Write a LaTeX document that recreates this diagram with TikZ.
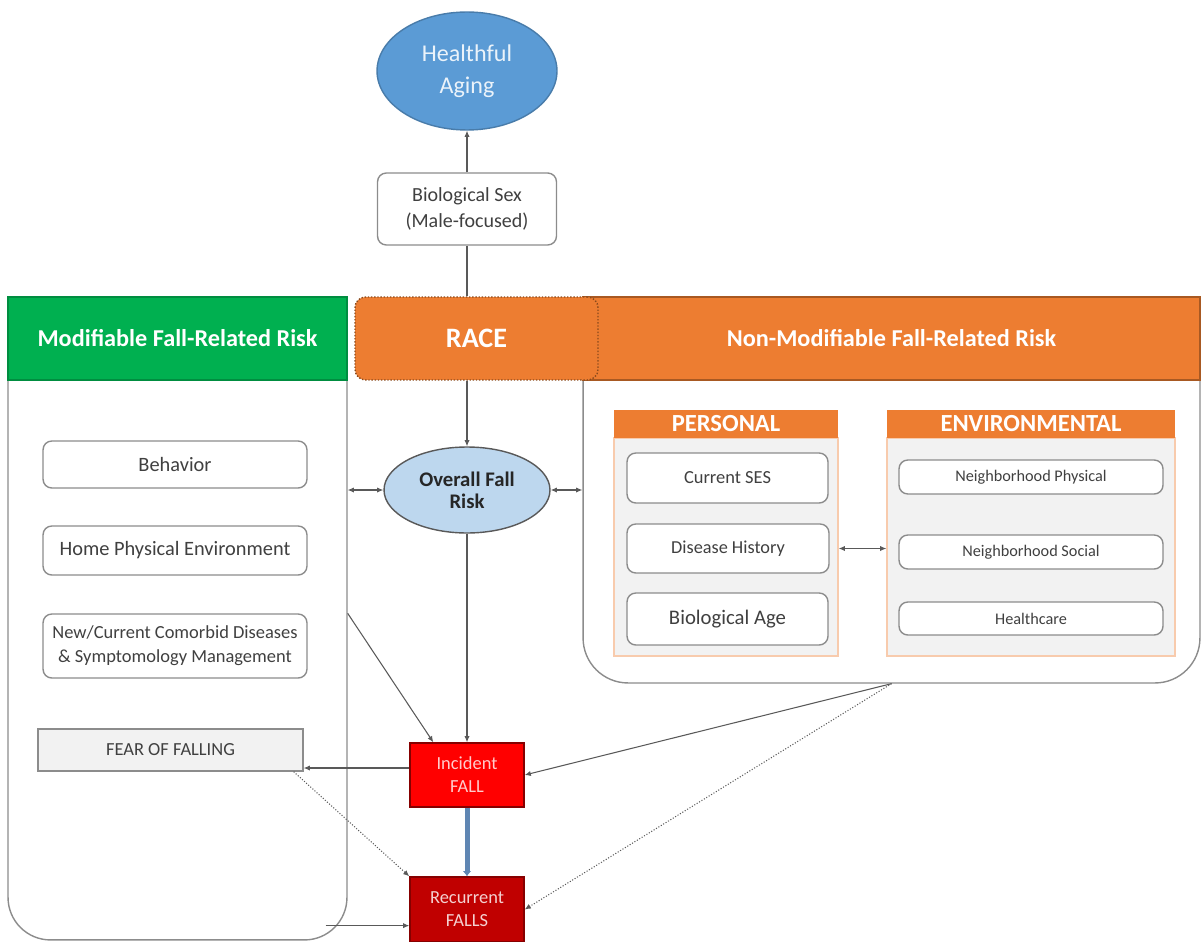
\documentclass[tikz,border=0pt]{standalone}
\usepackage{fontspec}
\setmainfont{Carlito}
\usepackage{xcolor}
\usepackage{tikz}
\usetikzlibrary{shapes}
\usetikzlibrary{shapes.geometric}
\usetikzlibrary{arrows.meta}
\usetikzlibrary{positioning}
\definecolor{modgreen}{HTML}{00B050}
\definecolor{nonorange}{HTML}{ED7D31}
\definecolor{raceline}{HTML}{8A4A1C}
\definecolor{agingblue}{HTML}{5B9BD5}
\definecolor{riskblue}{HTML}{BDD7EE}
\definecolor{fallred}{HTML}{FF0000}
\definecolor{fallsred}{HTML}{C00000}
\definecolor{boxline}{HTML}{8C8C8C}
\definecolor{connline}{HTML}{595959}
\definecolor{softfill}{HTML}{F2F2F2}
\definecolor{softorange}{HTML}{F8CBAD}
\definecolor{textgray}{HTML}{404040}
\definecolor{barblue}{HTML}{5F86B3}
\tikzset{
    panel/.style = {rectangle, draw=boxline, fill=white, rounded corners=0.85cm, thick},
    header/.style = {rectangle, text=white, align=center, font=\bfseries\fontsize{13.8}{16}\selectfont, minimum height=1.66cm},
    factor/.style = {rectangle, draw=boxline, fill=white, rounded corners=5pt, align=center, text=textgray, font=\fontsize{11.6}{14}\selectfont, thick},
    subhead/.style = {rectangle, fill=nonorange, text=white, font=\bfseries\fontsize{14}{15}\selectfont, minimum height=0.56cm, inner sep=0pt},
    subbody/.style = {rectangle, draw=softorange, fill=softfill, minimum height=4.36cm},
    fallbox/.style = {rectangle, draw=fallsred!70!black, align=center, font=\fontsize{10.5}{13}\selectfont, minimum width=2.28cm},
}

\begin{document}
\begin{tikzpicture}[
	x=0.02cm,
	y=-0.02cm,
	thick
]
\tikzset{
    conn/.style = {-{Latex[length=3.5pt,width=3pt]}, connline, semithick},
    conn2/.style = {{Latex[length=3.5pt,width=3pt]}-{Latex[length=3.5pt,width=3pt]}, connline, semithick},
    connd/.style = {-{Latex[length=3.5pt,width=3pt]}, connline, semithick, densely dotted},
}
\useasboundingbox (0,0) rectangle (1202,942);
%
\node[ellipse, draw=agingblue!80!black, fill=agingblue, text=white!88!agingblue, align=center, font=\fontsize{13.7}{18}\selectfont, minimum width=3.6cm, minimum height=2.36cm, inner sep=0pt] at (467,71) (aging) {Healthful\\Aging};
\node[factor, font=\fontsize{11.4}{14.5}\selectfont, minimum width=3.58cm, minimum height=1.44cm] at (467,209) (sex) {Biological Sex\\(Male-focused)};
%
\node[panel, minimum width=6.78cm, minimum height=12.86cm] at (177.5,618.5) (modbody) {};
\node[header, draw=modgreen!80!black, fill=modgreen, minimum width=6.78cm] at (177.5,338.5) (modhead) {Modifiable Fall-Related Risk};
\node[panel, minimum width=12.34cm, minimum height=7.72cm, rounded corners=0.9cm] at (891.5,490) (nonbody) {};
\node[header, draw=raceline!70!nonorange, fill=nonorange, minimum width=12.34cm] at (891.5,338.5) (nonhead) {Non-Modifiable Fall-Related Risk};
\node[header, draw=raceline, densely dotted, fill=nonorange, rounded corners=6pt, minimum width=4.86cm, font=\bfseries\fontsize{16}{18}\selectfont] at (476.5,338.5) (race) {RACE};
%
\node[ellipse, draw=connline, fill=riskblue, text=black!85, align=center, font=\bfseries\fontsize{11.8}{12.5}\selectfont, minimum width=3.32cm, minimum height=1.72cm, inner sep=0pt] at (467,490) (risk) {Overall Fall\\Risk};
%
\node[factor, minimum width=5.28cm, minimum height=0.94cm] at (175,464.5) (behavior) {Behavior};
\node[factor, minimum width=5.28cm, minimum height=0.98cm] at (175,550.5) (home) {Home Physical Environment};
\node[factor, font=\fontsize{10.5}{13.6}\selectfont, minimum width=5.28cm, minimum height=1.28cm] at (175,646) (comorbid) {New/Current Comorbid Diseases\\\& Symptomology Management};
\node[factor, rounded corners=0pt, fill=softfill, font=\fontsize{10.5}{12}\selectfont, minimum width=5.3cm, minimum height=0.84cm] at (170.5,750) (fear) {FEAR OF FALLING};
%
\node[subbody, minimum width=4.48cm] at (726,547) (persbody) {};
\node[subhead, minimum width=4.48cm] at (726,424) (pershead) {PERSONAL};
\node[subbody, minimum width=5.76cm] at (1031,547) (envbody) {};
\node[subhead, minimum width=5.76cm] at (1031,424) (envhead) {ENVIRONMENTAL};
%
\node[factor, font=\fontsize{10.5}{12}\selectfont, minimum width=4.02cm, minimum height=1.0cm] at (727.5,478) (ses) {Current SES};
\node[factor, font=\fontsize{10.4}{12}\selectfont, minimum width=4.04cm, minimum height=0.98cm] at (728,548.5) (history) {Disease History};
\node[factor, font=\fontsize{11.8}{13}\selectfont, minimum width=4.02cm, minimum height=1.04cm] at (727.5,619) (age) {Biological Age};
\node[factor, font=\fontsize{9.25}{10}\selectfont, minimum width=5.28cm, minimum height=0.68cm] at (1031,477) (nphys) {Neighborhood Physical};
\node[factor, font=\fontsize{9.25}{10}\selectfont, minimum width=5.28cm, minimum height=0.68cm] at (1031,552) (nsoc) {Neighborhood Social};
\node[factor, font=\fontsize{9.25}{10}\selectfont, minimum width=5.28cm, minimum height=0.66cm] at (1031,618.5) (care) {Healthcare};
%
\node[fallbox, fill=fallred, text=white!80!fallred, minimum height=1.28cm] at (467,775) (incident) {Incident\\FALL};
\node[fallbox, fill=fallsred, text=white!82!fallsred, minimum height=1.3cm] at (467,909.5) (recurrent) {Recurrent\\FALLS};
%
\coordinate (fearin) at ([yshift=-0.36cm]fear.east);
\coordinate (modout) at ([xshift=-0.44cm,yshift=0.3cm]modbody.south east);
%
\draw[conn] (sex) -- (aging);
\draw[connline, semithick] (sex.south) -- (sex.south |- race.north);
\draw[conn] (risk.north |- race.south) -- (risk);
\draw[conn2] (modbody.east |- risk.west) -- (risk.west);
\draw[conn2] (risk.east) -- (nonbody.west |- risk.east);
\draw[conn2] (persbody.east |- history.east) -- (envbody.west |- history.east);
%
\draw[conn] (risk) -- (incident);
\draw[conn] (modbody.east |- comorbid.north) -- ([xshift=0.48cm]incident.north west);
\draw[conn] (incident.west |- fearin) -- (fearin);
\draw[conn] (nonbody.south) -- (incident.east);
\draw[connd] (nonbody.south) -- (recurrent.east);
\draw[connd] ([xshift=-0.2cm]fear.south east) -- (recurrent.north west);
\draw[-{Latex[length=3pt,width=5pt]}, barblue, line width=0.1cm] (incident) -- (recurrent);
\draw[conn] (modout) -- (recurrent.west |- modout);
\end{tikzpicture}
\end{document}
